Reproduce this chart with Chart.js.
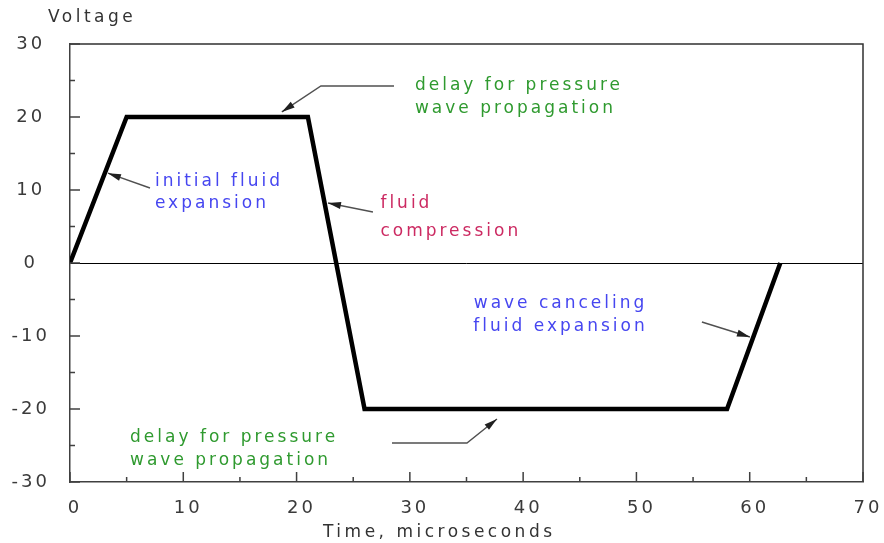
<!DOCTYPE html>
<html>
<head>
<meta charset="utf-8">
<script src="https://cdn.jsdelivr.net/npm/chart.js@4/dist/chart.umd.min.js"></script>
<style>
  html, body { margin: 0; padding: 0; background: #fff; }
  #wrap { width: 884px; height: 543px; }
</style>
</head>
<body>
<div id="wrap"><canvas id="myChart" width="884" height="543"></canvas></div>
<script>
'use strict';
// pulse waveform (time in microseconds, voltage)
let timeValues = [0, 5, 21, 26, 58, 62.7];
let voltValues = [0, 20, 20, -20, -20, 0];
let xMin = 0, xMax = 70, xStep = 5;
let yMin = -30, yMax = 30, yStep = 5;
let xTitle = 'Time, microseconds';
let yTitle = 'Voltage';

// callouts, given in data units (time, voltage)
let notes = [
    { lines: ['delay for pressure', 'wave propagation'], color: '#2f9a2f', align: 'left',
      at: [30.45, 24.25], gap: 3.1, arrow: [[28.6, 24.25], [22.15, 24.25], [18.7, 20.7]] },
    { lines: ['initial fluid', 'expansion'], color: '#4646f0', align: 'left',
      at: [7.5, 11.1], gap: 3.0, arrow: [[7.06, 10.27], [3.35, 12.3]] },
    { lines: ['fluid', 'compression'], color: '#cc2a62', align: 'left',
      at: [27.4, 8.1], gap: 3.8, arrow: [[26.74, 6.99], [22.77, 8.22]] },
    { lines: ['wave canceling', 'fluid expansion'], color: '#4646f0', align: 'center',
      at: [43.3, -5.5], gap: 3.15, arrow: [[55.78, -8.08], [60.02, -10.14]] },
    { lines: ['delay for pressure', 'wave propagation'], color: '#2f9a2f', align: 'left',
      at: [5.3, -23.85], gap: 3.25, arrow: [[28.42, -24.66], [35.04, -24.66], [37.69, -21.37]] }
];

let points = [];
for (let i = 0; i < timeValues.length; i++) {
    points.push({ x: timeValues[i], y: voltValues[i] });
}

const tickFont = { family: 'DejaVu Sans', size: 18 };

function drawArrow(ctx, pts) {
    ctx.save();
    ctx.strokeStyle = '#505050';
    ctx.fillStyle = '#202020';
    ctx.lineWidth = 1.4;
    ctx.beginPath();
    ctx.moveTo(pts[0][0], pts[0][1]);
    for (let i = 1; i < pts.length; i++) ctx.lineTo(pts[i][0], pts[i][1]);
    ctx.stroke();
    let a = pts[pts.length - 2], b = pts[pts.length - 1];
    let ang = Math.atan2(b[1] - a[1], b[0] - a[0]);
    let len = 13, half = 3.5;
    ctx.beginPath();
    ctx.moveTo(b[0], b[1]);
    ctx.lineTo(b[0] - len * Math.cos(ang) + half * Math.sin(ang), b[1] - len * Math.sin(ang) - half * Math.cos(ang));
    ctx.lineTo(b[0] - len * Math.cos(ang) - half * Math.sin(ang), b[1] - len * Math.sin(ang) + half * Math.cos(ang));
    ctx.closePath();
    ctx.fill();
    ctx.restore();
}

const decorPlugin = {
    id: 'decor',
    beforeLayout(chart) { chart.ctx.letterSpacing = '3px'; },
    beforeDraw(chart) { chart.ctx.letterSpacing = '3px'; },
    afterDraw(chart) {
        let ctx = chart.ctx;
        let xs = chart.scales.x, ys = chart.scales.y;
        let area = chart.chartArea;
        ctx.save();
        // top and right frame
        ctx.strokeStyle = '#303030';
        ctx.lineWidth = 1.5;
        ctx.beginPath();
        ctx.moveTo(area.left, area.top);
        ctx.lineTo(area.right, area.top);
        ctx.lineTo(area.right, area.bottom);
        ctx.stroke();
        // inward ticks
        ctx.strokeStyle = '#404040';
        ctx.lineWidth = 1.5;
        ctx.beginPath();
        xs.ticks.forEach(t => {
            let px = xs.getPixelForValue(t.value);
            let len = t.value % 10 === 0 ? 10 : 5;
            ctx.moveTo(px, area.bottom);
            ctx.lineTo(px, area.bottom - len);
        });
        ys.ticks.forEach(t => {
            let py = ys.getPixelForValue(t.value);
            let len = t.value % 10 === 0 ? 10 : 5;
            ctx.moveTo(area.left, py);
            ctx.lineTo(area.left + len, py);
        });
        ctx.stroke();

        // axis titles
        ctx.letterSpacing = '3.5px';
        ctx.fillStyle = '#333';
        ctx.font = '17px "DejaVu Sans"';
        ctx.textBaseline = 'middle';
        ctx.textAlign = 'left';
        ctx.fillText(yTitle, 48, 18);
        ctx.fillText(xTitle, 323, 533);

        // callouts
        ctx.letterSpacing = '3px';
        notes.forEach(n => {
            drawArrow(ctx, n.arrow.map(p => [xs.getPixelForValue(p[0]), ys.getPixelForValue(p[1])]));
            ctx.fillStyle = n.color;
            ctx.textAlign = n.align;
            n.lines.forEach((line, i) => {
                ctx.fillText(line, xs.getPixelForValue(n.at[0]), ys.getPixelForValue(n.at[1] - i * n.gap));
            });
        });
        ctx.restore();
    }
};

let chart = new Chart(document.getElementById('myChart'), {
    type: 'line',
    data: {
        datasets: [{
            data: points,
            borderColor: '#000',
            borderWidth: 4.5,
            pointRadius: 0,
            tension: 0,
            fill: false,
            borderJoinStyle: 'miter'
        }]
    },
    options: {
        responsive: false,
        animation: false,
        events: [],
        layout: { padding: { left: 0, top: 44, right: 21, bottom: 0 } },
        plugins: { legend: { display: false }, tooltip: { enabled: false } },
        scales: {
            x: {
                type: 'linear',
                min: xMin, max: xMax,
                grid: { display: false },
                border: { display: true, color: '#404040', width: 1.5 },
                ticks: {
                    stepSize: xStep,
                    autoSkip: false,
                    maxRotation: 0,
                    color: '#3a3a3a',
                    font: tickFont,
                    padding: 8,
                    labelOffset: 5,
                    callback: v => v % 10 === 0 ? String(v) : ''
                },
                afterFit: s => { s.height = 61; s.paddingLeft = 0; s.paddingRight = 0; }
            },
            y: {
                type: 'linear',
                min: yMin, max: yMax,
                grid: {
                    drawTicks: false,
                    color: ctx => ctx.tick && ctx.tick.value === 0 ? '#000' : 'rgba(0,0,0,0)',
                    lineWidth: 1
                },
                border: { display: true, color: '#404040', width: 1.5 },
                ticks: {
                    stepSize: yStep,
                    autoSkip: false,
                    color: '#3a3a3a',
                    font: tickFont,
                    crossAlign: 'center',
                    padding: 20,
                    callback: v => v % 10 === 0 ? String(v) : ''
                },
                afterFit: s => { s.width = 70; s.paddingTop = 0; s.paddingBottom = 0; }
            }
        }
    },
    plugins: [decorPlugin]
});
</script>
</body>
</html>
